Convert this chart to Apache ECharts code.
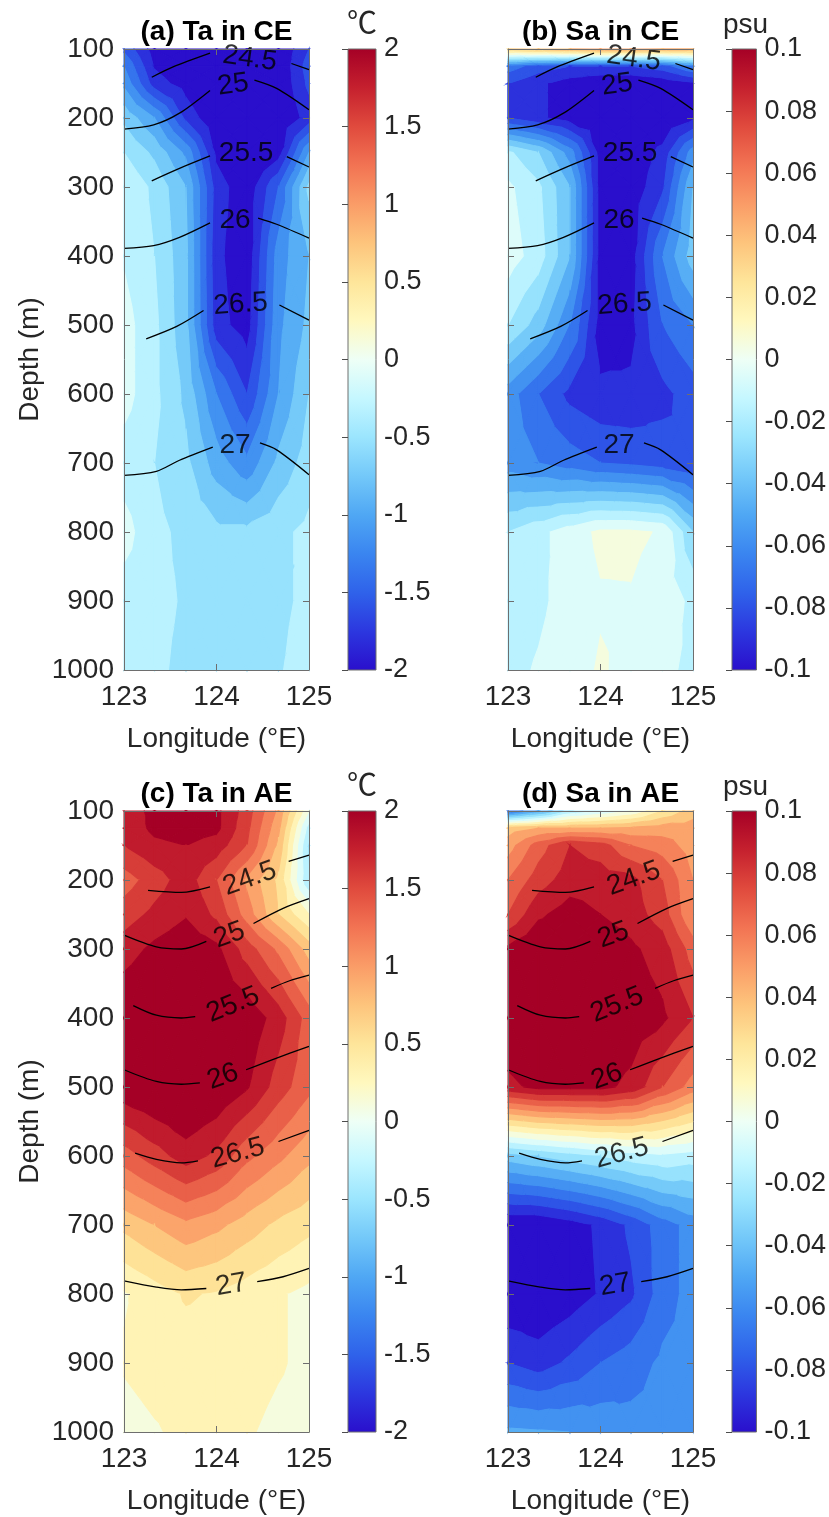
<!DOCTYPE html>
<html>
<head>
<meta charset="utf-8">
<title>Ta / Sa sections in CE and AE</title>
<script src="https://cdn.jsdelivr.net/npm/echarts@6/dist/echarts.min.js"></script>
<style>
  html, body { margin: 0; padding: 0; background: #fff; }
  #chart { width: 829px; height: 1517px; }
</style>
</head>
<body>
<div id="chart"></div>
<script>
// section grid (longitude x depth)
const lons = [123, 123.33, 123.67, 124, 124.33, 124.67, 125];
const depths = [100, 125, 150, 200, 250, 300, 400, 500, 600, 700, 800, 900, 1000];

// temperature anomaly in cyclonic eddies (rows = depths, cols = lons)
const taCE = [
  [-1.45, -1.9, -2.05, -2.1, -2.1, -2.0, -1.6],
  [-1.2, -1.82, -2.0, -2.2, -2.2, -2.0, -1.5],
  [-1.05, -1.7, -1.9, -2.2, -2.2, -2.0, -1.55],
  [-0.65, -1.0, -1.65, -2.0, -2.2, -2.0, -1.72],
  [-0.4, -0.65, -1.05, -1.85, -2.1, -1.9, -1.0],
  [-0.22, -0.45, -0.8, -1.7, -1.95, -1.4, -0.55],
  [-0.22, -0.4, -0.75, -1.75, -1.95, -1.1, -0.8],
  [-0.12, -0.35, -0.75, -1.72, -1.9, -1.05, -0.75],
  [-0.12, -0.35, -0.65, -1.2, -1.6, -1.0, -0.6],
  [-0.3, -0.4, -0.55, -0.9, -1.15, -0.75, -0.5],
  [-0.12, -0.35, -0.45, -0.55, -0.55, -0.45, -0.35],
  [-0.3, -0.35, -0.42, -0.5, -0.5, -0.45, -0.35],
  [-0.3, -0.36, -0.45, -0.5, -0.5, -0.42, -0.3]
];

// salinity anomaly in cyclonic eddies
const saCE = [
  [0.03, 0.035, 0.04, 0.045, 0.045, 0.04, 0.04],
  [-0.065, -0.075, -0.08, -0.08, -0.08, -0.075, -0.06],
  [-0.08, -0.088, -0.095, -0.1, -0.1, -0.097, -0.092],
  [-0.08, -0.088, -0.095, -0.1, -0.1, -0.1, -0.092],
  [-0.018, -0.03, -0.055, -0.095, -0.098, -0.087, -0.055],
  [-0.008, -0.018, -0.04, -0.095, -0.097, -0.082, -0.04],
  [-0.005, -0.015, -0.04, -0.095, -0.095, -0.06, -0.035],
  [-0.02, -0.035, -0.06, -0.095, -0.093, -0.07, -0.06],
  [-0.055, -0.07, -0.083, -0.088, -0.088, -0.083, -0.075],
  [-0.055, -0.06, -0.065, -0.07, -0.072, -0.075, -0.08],
  [-0.02, -0.013, -0.005, 0.002, 0.002, -0.001, -0.03],
  [-0.015, -0.012, -0.006, -0.001, -0.0008, -0.005, -0.012],
  [-0.013, -0.009, -0.004, 0.001, -0.003, -0.008, -0.012]
];

// temperature anomaly in anticyclonic eddies
const taAE = [
  [1.7, 1.85, 1.95, 1.85, 1.5, 0.95, 0.0],
  [1.65, 1.85, 1.9, 1.85, 1.45, 0.85, -0.3],
  [1.6, 1.75, 1.8, 1.7, 1.4, 0.75, -0.45],
  [1.3, 1.5, 1.7, 1.4, 0.95, 0.55, -0.4],
  [1.5, 1.65, 1.78, 1.55, 1.1, 0.6, 0.2],
  [1.7, 1.85, 1.95, 1.85, 1.5, 1.15, 0.7],
  [2.0, 2.1, 2.1, 2.0, 1.95, 1.7, 1.3],
  [1.95, 2.05, 2.1, 2.0, 1.82, 1.5, 1.25],
  [1.3, 1.5, 1.7, 1.55, 1.25, 1.05, 0.85],
  [0.65, 0.8, 0.95, 0.85, 0.7, 0.55, 0.45],
  [0.18, 0.3, 0.42, 0.38, 0.3, 0.22, 0.15],
  [0.22, 0.28, 0.3, 0.3, 0.28, 0.22, 0.15],
  [0.12, 0.18, 0.25, 0.28, 0.22, 0.15, 0.12]
];

// salinity anomaly in anticyclonic eddies
const saAE = [
  [-0.07, -0.05, -0.02, -0.01, 0.0, 0.02, 0.035],
  [0.035, 0.04, 0.04, 0.04, 0.042, 0.045, 0.045],
  [0.045, 0.065, 0.08, 0.075, 0.06, 0.055, 0.045],
  [0.06, 0.075, 0.085, 0.085, 0.083, 0.07, 0.05],
  [0.07, 0.088, 0.095, 0.09, 0.085, 0.075, 0.05],
  [0.092, 0.1, 0.1, 0.098, 0.092, 0.085, 0.065],
  [0.1, 0.105, 0.105, 0.1, 0.097, 0.092, 0.08],
  [0.087, 0.093, 0.093, 0.093, 0.087, 0.07, 0.055],
  [-0.035, -0.03, -0.025, -0.02, -0.015, -0.012, -0.015],
  [-0.1, -0.1, -0.095, -0.088, -0.078, -0.065, -0.056],
  [-0.1, -0.1, -0.096, -0.089, -0.082, -0.065, -0.056],
  [-0.08, -0.085, -0.078, -0.07, -0.065, -0.058, -0.056],
  [-0.048, -0.049, -0.05, -0.053, -0.056, -0.056, -0.056]
];

// contour levels of the filled plots
const taLevels = [-2, -1.8, -1.6, -1.4, -1.2, -1, -0.8, -0.6, -0.4, -0.2, 0,
  0.2, 0.4, 0.6, 0.8, 1, 1.2, 1.4, 1.6, 1.8, 2];
const saLevels = [-0.1, -0.09, -0.08, -0.07, -0.06, -0.05, -0.04, -0.03, -0.02, -0.01, 0,
  0.01, 0.02, 0.03, 0.04, 0.05, 0.06, 0.07, 0.08, 0.09, 0.1];

// isopycnals (sigma-theta), drawn as two pieces around the inline label
const isoNames = ['24.5', '25', '25.5', '26', '26.5', '27'];
const ceIsoLeft = [
  [[123.30, 141], [123.53, 126], [123.93, 106]],
  [[123, 216], [123.32, 210], [123.6, 193], [123.93, 160]],
  [[123.3, 291], [123.6, 273], [123.93, 255]],
  [[123, 389], [123.32, 385], [123.6, 373], [123.93, 352]],
  [[123.24, 520], [123.57, 502], [123.86, 479]],
  [[123, 718], [123.35, 712], [123.6, 696], [123.96, 677]]
];
const ceIsoRight = [
  [[124.81, 121], [125, 130]],
  [[124.41, 145], [124.65, 157], [125, 188]],
  [[124.76, 256], [125, 271]],
  [[124.45, 345], [124.65, 354], [125, 374]],
  [[124.68, 471], [125, 493]],
  [[124.47, 671], [124.65, 681], [125, 717]]
];
const ceLabelPos = [[124.36, 114], [124.18, 152], [124.32, 251], [124.2, 348], [124.26, 470], [124.2, 674]];
const ceLabelRot = [-8, 8, 0, 0, 4, 0];

const aeIsoLeft = [
  [[123.26, 215], [123.62, 218], [123.93, 210]],
  [[123, 280], [123.35, 297], [123.62, 300], [123.89, 289]],
  [[123.1, 382], [123.35, 396], [123.62, 400], [123.77, 398]],
  [[123, 475], [123.35, 492], [123.62, 496], [123.82, 494]],
  [[123.12, 596], [123.35, 605], [123.62, 610], [123.8, 607]],
  [[123, 781], [123.35, 790], [123.62, 794], [123.89, 792]]
];
const aeIsoRight = [
  [[124.78, 173], [125, 164]],
  [[124.4, 263], [124.72, 241], [125, 227]],
  [[124.59, 357], [124.79, 346], [125, 338]],
  [[124.32, 475], [124.65, 458], [125, 441]],
  [[124.67, 579], [125, 563]],
  [[124.44, 782], [124.72, 775], [125, 763]]
];
const aeLabelPos = [[124.36, 198], [124.14, 280], [124.18, 381], [124.07, 485], [124.23, 596], [124.16, 787]];
const aeLabelRot = [20, 20, 22, 20, 15, 10];

// colour map (blue - cyan - white - yellow - red)
const cmap = [
  [0.0, '#2a0fcc'], [0.0625, '#2c37df'], [0.125, '#2f62ea'], [0.1875, '#3a85f0'],
  [0.25, '#4fa7f4'], [0.3125, '#73c8f9'], [0.375, '#9be5fe'], [0.4375, '#c5f7ff'],
  [0.5, '#eefff6'], [0.5625, '#fff8be'], [0.625, '#fee59a'], [0.6875, '#fdc47c'],
  [0.75, '#fa9c67'], [0.8125, '#f27353'], [0.875, '#e04a3d'], [0.9375, '#c5202e'],
  [1.0, '#a50026']
];

const FONT = '"Liberation Sans", Arial, Helvetica, sans-serif';
const AXIS_COLOR = '#6e6e6e';
const TEXT_COLOR = '#262626';

function hexToRgb(h) {
  return [parseInt(h.slice(1, 3), 16), parseInt(h.slice(3, 5), 16), parseInt(h.slice(5, 7), 16)];
}
function cmapColor(t) {
  t = Math.max(0, Math.min(1, t));
  for (let k = 0; k < cmap.length - 1; k++) {
    const a = cmap[k], b = cmap[k + 1];
    if (t <= b[0]) {
      const f = (t - a[0]) / (b[0] - a[0]);
      const ca = hexToRgb(a[1]), cb = hexToRgb(b[1]);
      const c = ca.map((v, n) => Math.round(v + f * (cb[n] - v)));
      return 'rgb(' + c.join(',') + ')';
    }
  }
  return cmap[cmap.length - 1][1];
}

// keep the part of a polygon (points [x, y, value]) above / below a level
function clipPoly(pts, level, keepAbove) {
  const out = [];
  for (let a = 0; a < pts.length; a++) {
    const P = pts[a], Q = pts[(a + 1) % pts.length];
    const pin = keepAbove ? P[2] >= level : P[2] <= level;
    const qin = keepAbove ? Q[2] >= level : Q[2] <= level;
    if (pin) out.push(P);
    if (pin !== qin) {
      const t = (level - P[2]) / (Q[2] - P[2]);
      out.push([P[0] + t * (Q[0] - P[0]), P[1] + t * (Q[1] - P[1]), level]);
    }
  }
  return out;
}

// filled contours of one grid cell
function makeContourRender(field, levels) {
  const nb = levels.length - 1;
  const colors = [];
  for (let k = 0; k < nb; k++) colors.push(cmapColor(k / (nb - 1)));
  return function (params, api) {
    const i = api.value(2), j = api.value(3);
    const corner = (ii, jj) => {
      const p = api.coord([lons[ii], depths[jj]]);
      return [p[0], p[1], field[jj][ii]];
    };
    const a = corner(i, j), b = corner(i + 1, j), c = corner(i + 1, j + 1), d = corner(i, j + 1);
    const m = [0, 1, 2].map(n => (a[n] + b[n] + c[n] + d[n]) / 4);
    const tris = [[a, b, m], [b, c, m], [c, d, m], [d, a, m]];
    const children = [];
    tris.forEach(tri => {
      const vs = tri.map(p => p[2]);
      const vmin = Math.min(...vs), vmax = Math.max(...vs);
      for (let k = 0; k < nb; k++) {
        const lo = k === 0 ? -Infinity : levels[k];
        const hi = k === nb - 1 ? Infinity : levels[k + 1];
        if (vmax < lo || vmin > hi) continue;
        let poly = tri;
        if (lo > -Infinity) poly = clipPoly(poly, lo, true);
        if (poly.length > 2 && hi < Infinity) poly = clipPoly(poly, hi, false);
        if (poly.length < 3) continue;
        children.push({
          type: 'polygon',
          silent: true,
          shape: { points: poly.map(p => [p[0], p[1]]) },
          style: { fill: colors[k], stroke: colors[k], lineWidth: 1.1 }
        });
      }
    });
    return { type: 'group', children: children };
  };
}

const cells = [];
for (let j = 0; j < depths.length - 1; j++) {
  for (let i = 0; i < lons.length - 1; i++) cells.push([lons[i], depths[j], i, j]);
}

const panels = [
  { field: taCE, levels: taLevels, title: '(a) Ta in CE', unit: '℃', iso: 'ce', left: 124, top: 49, cbLeft: 348, cbWidth: 28, yLabels: true, min: -2, max: 2, step: 0.5 },
  { field: saCE, levels: saLevels, title: '(b) Sa in CE', unit: 'psu', iso: 'ce', left: 508, top: 49, cbLeft: 732, cbWidth: 27, yLabels: false, min: -0.1, max: 0.1, step: 0.02 },
  { field: taAE, levels: taLevels, title: '(c) Ta in AE', unit: '℃', iso: 'ae', left: 124, top: 811, cbLeft: 348, cbWidth: 28, yLabels: true, min: -2, max: 2, step: 0.5 },
  { field: saAE, levels: saLevels, title: '(d) Sa in AE', unit: 'psu', iso: 'ae', left: 508, top: 811, cbLeft: 732, cbWidth: 27, yLabels: false, min: -0.1, max: 0.1, step: 0.02 }
];
const PW = 185, PH = 621;

const grid = [], xAxis = [], yAxis = [], series = [], graphic = [];
const labelStyle = { fontSize: 28, color: TEXT_COLOR, fontFamily: FONT };
const plain = v => String(v);

panels.forEach(p => {
  // main section
  const gi = grid.length;
  grid.push({ left: p.left, top: p.top, width: PW, height: PH });
  const xi = xAxis.length, yi = yAxis.length;

  const axLine = { show: true, onZero: false, lineStyle: { color: AXIS_COLOR, width: 1 } };
  const axTick = { show: true, inside: true, length: 6, lineStyle: { color: AXIS_COLOR, width: 1 } };
  xAxis.push({
    gridIndex: gi, type: 'value', min: 123, max: 125, interval: 1, position: 'bottom', z: 5,
    axisLine: axLine, axisTick: axTick, splitLine: { show: false },
    axisLabel: Object.assign({ margin: 13, showMinLabel: true, showMaxLabel: true, formatter: plain }, labelStyle),
    name: 'Longitude (°E)', nameLocation: 'middle', nameGap: 55, nameTextStyle: labelStyle
  });
  xAxis.push({
    gridIndex: gi, type: 'value', min: 123, max: 125, interval: 1, position: 'top', z: 5,
    axisLine: axLine, axisTick: axTick, splitLine: { show: false }, axisLabel: { show: false }
  });
  yAxis.push({
    gridIndex: gi, type: 'value', inverse: true, min: 100, max: 1000, interval: 100, position: 'left', z: 5,
    axisLine: axLine, axisTick: axTick, splitLine: { show: false },
    axisLabel: Object.assign({ show: p.yLabels, margin: 10, showMinLabel: true, showMaxLabel: true, formatter: plain }, labelStyle),
    name: p.yLabels ? 'Depth (m)' : '', nameLocation: 'middle', nameRotate: 90, nameGap: 80,
    nameTextStyle: labelStyle
  });
  yAxis.push({
    gridIndex: gi, type: 'value', inverse: true, min: 100, max: 1000, interval: 100, position: 'right', z: 5,
    axisLine: axLine, axisTick: axTick, splitLine: { show: false }, axisLabel: { show: false }
  });

  // filled contours
  series.push({
    type: 'custom', xAxisIndex: xi, yAxisIndex: yi, data: cells,
    encode: { x: 0, y: 1 }, renderItem: makeContourRender(p.field, p.levels),
    silent: true, z: 1
  });

  // isopycnals
  const left = p.iso === 'ce' ? ceIsoLeft : aeIsoLeft;
  const right = p.iso === 'ce' ? ceIsoRight : aeIsoRight;
  const lpos = p.iso === 'ce' ? ceLabelPos : aeLabelPos;
  const lrot = p.iso === 'ce' ? ceLabelRot : aeLabelRot;
  left.concat(right).forEach(seg => {
    series.push({
      type: 'line', xAxisIndex: xi, yAxisIndex: yi, data: seg,
      symbol: 'none', smooth: 0.3, silent: true, z: 3,
      lineStyle: { color: '#000', width: 1.3 }
    });
  });
  series.push({
    type: 'scatter', xAxisIndex: xi, yAxisIndex: yi, symbolSize: 1, silent: true, z: 4,
    itemStyle: { color: 'rgba(0,0,0,0)' },
    data: isoNames.map((nm, k) => ({ name: nm, value: lpos[k], label: { rotate: lrot[k] } })),
    label: { show: true, position: 'inside', formatter: q => q.name, fontSize: 28, color: '#000', fontFamily: FONT }
  });

  // colour bar
  const gc = grid.length;
  grid.push({ left: p.cbLeft, top: p.top, width: p.cbWidth, height: PH });
  const xc = xAxis.length, yc = yAxis.length;
  xAxis.push({ gridIndex: gc, type: 'value', min: 0, max: 1, show: false });
  yAxis.push({
    gridIndex: gc, type: 'value', min: p.min, max: p.max, interval: p.step, position: 'right', z: 5,
    axisLine: { show: false }, splitLine: { show: false },
    axisTick: { show: true, inside: true, length: 6, lineStyle: { color: '#4d4d4d', width: 1 } },
    axisLabel: Object.assign({
      margin: 8, showMinLabel: true, showMaxLabel: true,
      formatter: v => String(Math.round(v * 1000) / 1000)
    }, labelStyle, { fontSize: 27 })
  });
  series.push({
    type: 'custom', xAxisIndex: xc, yAxisIndex: yc, data: [[0, p.min]], silent: true, z: 1,
    renderItem: (params, api) => {
      const tl = api.coord([0, p.max]), br = api.coord([1, p.min]);
      return {
        type: 'rect',
        shape: { x: tl[0], y: tl[1], width: br[0] - tl[0], height: br[1] - tl[1] },
        style: {
          fill: new echarts.graphic.LinearGradient(0, 1, 0, 0, cmap.map(s => ({ offset: s[0], color: s[1] }))),
          stroke: AXIS_COLOR, lineWidth: 1
        }
      };
    }
  });

  // panel title and unit
  graphic.push({
    type: 'text', x: p.left + PW / 2, y: p.top - 17, silent: true,
    style: { text: p.title, font: 'bold 28px ' + FONT, fill: '#000', align: 'center', verticalAlign: 'middle' }
  });
  graphic.push({
    type: 'text', x: p.cbLeft + p.cbWidth / 2, y: p.top - (p.unit === 'psu' ? 24 : 27), silent: true,
    style: {
      text: p.unit, fill: TEXT_COLOR, align: 'center', verticalAlign: 'middle',
      font: p.unit === 'psu' ? '28px ' + FONT : '30px "Noto Sans CJK SC", sans-serif'
    }
  });
});

const chart = echarts.init(document.getElementById('chart'), null, { renderer: 'canvas' });
chart.setOption({
  backgroundColor: '#fff',
  animation: false,
  textStyle: { fontFamily: FONT },
  grid: grid,
  xAxis: xAxis,
  yAxis: yAxis,
  series: series,
  graphic: graphic
});
</script>
</body>
</html>
